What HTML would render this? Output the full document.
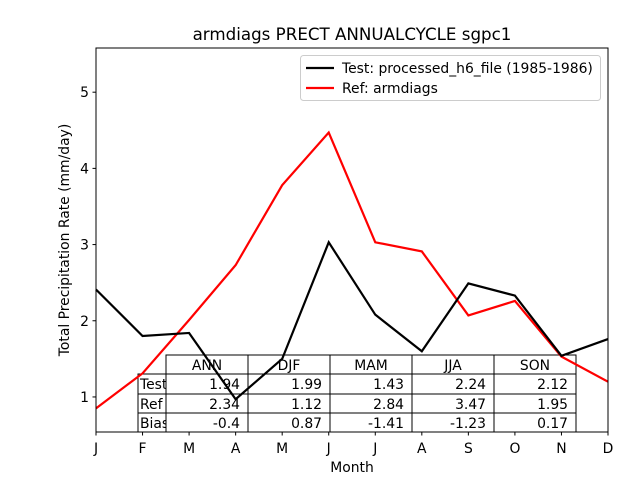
<!DOCTYPE html>
<html><head><meta charset="utf-8"><style>
body{margin:0;background:#fff;font-family:"Liberation Sans","DejaVu Sans",sans-serif}
svg text{font-family:"DejaVu Sans","Liberation Sans",sans-serif}
</style></head><body>
<svg id="c" width="640" height="480" xmlns="http://www.w3.org/2000/svg"></svg>
<script>
const months=["J","F","M","A","M","J","J","A","S","O","N","D"];
const testVals=[2.41,1.80,1.84,0.97,1.50,3.03,2.08,1.60,2.49,2.33,1.54,1.76];
const refVals=[0.85,1.31,2.01,2.73,3.78,4.47,3.03,2.91,2.07,2.26,1.53,1.20];
const yTicks=[1,2,3,4,5];
const colLabels=["ANN","DJF","MAM","JJA","SON"];
const rowLabels=["Test","Ref","Bias"];
const cells=[["1.94","1.99","1.43","2.24","2.12"],["2.34","1.12","2.84","3.47","1.95"],["-0.4","0.87","-1.41","-1.23","0.17"]];
const svg=document.getElementById('c');const NS="http://www.w3.org/2000/svg";
const L=96,R=608,T=48,B=432,ymin=0.54,ymax=5.58;
const FS=13.9;
const xs=i=>L+i*(R-L)/11;const ys=v=>B-(v-ymin)/(ymax-ymin)*(B-T);
function mk(t,a,p){const e=document.createElementNS(NS,t);for(const k in a)e.setAttribute(k,a[k]);(p||svg).appendChild(e);return e;}
function tx(x,y,s,anchor,size,p){const e=mk('text',{x:x,y:y,'text-anchor':anchor||'middle','font-size':size||FS,fill:'#000'},p);e.textContent=s;return e;}
let e;
e=tx(352,40,"armdiags PRECT ANNUALCYCLE sgpc1","middle",16.7);


months.forEach((m,i)=>{e=mk('line',{x1:xs(i),x2:xs(i),y1:B,y2:B+3.5,stroke:'#000'});


e=tx(xs(i),453,m);

});
yTicks.forEach(v=>{e=mk('line',{x1:L-3.5,x2:L,y1:ys(v),y2:ys(v),stroke:'#000'});


e=tx(L-7,ys(v)+5,String(v),'end');

});
e=tx(352,472,"Month");


e=tx(0,0,"Total Precipitation Rate (mm/day)");
e.setAttribute('transform','translate(69,240) rotate(-90)');


// table
const tg=mk('g',{});


const cx=[138,166,248,330,412,494,576],ry=[355,374,394,413,432];
colLabels.forEach((c,j)=>{mk('rect',{x:cx[j+1],y:ry[0],width:cx[j+2]-cx[j+1],height:ry[1]-ry[0],fill:'#fff',stroke:'#000'},tg);
e=tx((cx[j+1]+cx[j+2])/2,ry[0]+15,c,'middle',FS,tg);

});
rowLabels.forEach((r,i)=>{mk('rect',{x:cx[0],y:ry[i+1],width:cx[1]-cx[0],height:ry[i+2]-ry[i+1],fill:'#fff',stroke:'#000'},tg);
e=tx(cx[0]+2,ry[i+1]+15,r,'start',FS,tg);


cells[i].forEach((v,j)=>{mk('rect',{x:cx[j+1],y:ry[i+1],width:cx[j+2]-cx[j+1],height:ry[i+2]-ry[i+1],fill:'#fff',stroke:'#000'},tg);
e=tx(cx[j+2]-8,ry[i+1]+15,v,'end',FS,tg);

});});
function line(vals,col,name){e=mk('polyline',{points:vals.map((v,i)=>xs(i)+','+ys(v)).join(' '),fill:'none',stroke:col,'stroke-width':2.2});

}
line(refVals,'#ff0000','ref-line');
line(testVals,'#000','test-line');
e=mk('rect',{x:L,y:T,width:R-L,height:B-T,fill:'none',stroke:'#000','stroke-width':1});


// legend
const lg=mk('g',{});


mk('rect',{x:300.5,y:55.5,width:300,height:45,rx:3,fill:'#fff','fill-opacity':0.8,stroke:'#ccc'},lg);
mk('line',{x1:306,x2:334,y1:68,y2:68,stroke:'#000','stroke-width':2.2},lg);
e=tx(342,73,"Test: processed_h6_file (1985-1986)",'start',FS,lg);


mk('line',{x1:306,x2:334,y1:88,y2:88,stroke:'#f00','stroke-width':2.2},lg);
e=tx(342,93,"Ref: armdiags",'start',FS,lg);


</script>
</body></html>
